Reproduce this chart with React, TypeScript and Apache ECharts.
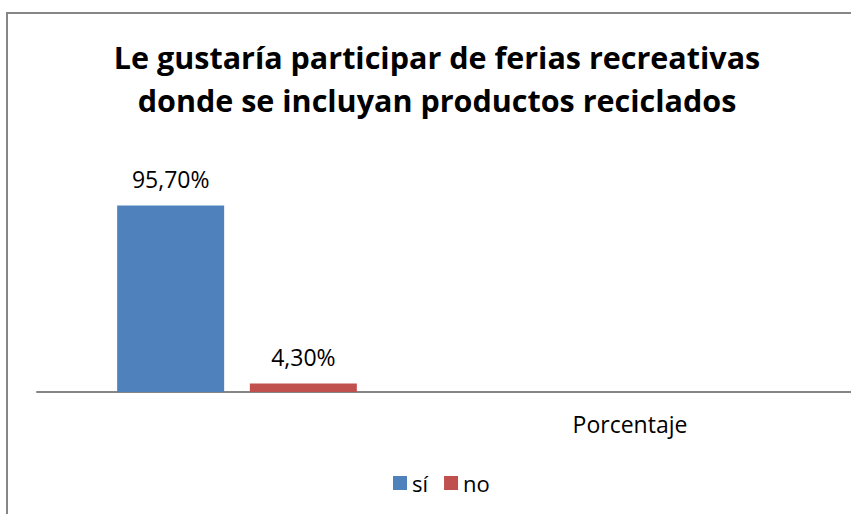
import React, { useEffect, useRef } from "react";
import * as echarts from "echarts";

const categories = ["", "Porcentaje"];
const seriesNames = ["sí", "no"];
const siValues = [95.7, null];
const noValues = [4.3, null];
const seriesColors = ["#4F81BD", "#C0504D"];
const titleText = "Le gustaría participar de ferias recreativas\ndonde se incluyan productos reciclados";

const fmt = (v: number) => v.toFixed(2).replace(".", ",") + "%";

export default function App() {
  const ref = useRef<HTMLDivElement>(null);
  useEffect(() => {
    if (!ref.current) return;
    const chart = echarts.init(ref.current, null, { renderer: "svg" });
    const font = "'Open Sans', sans-serif";
    const label = {
      show: true,
      position: "top",
      distance: 15,
      fontFamily: font,
      fontSize: 23,
      color: "#000",
      formatter: (p: any) => fmt(p.value),
    };
    chart.setOption({
      animation: false,
      backgroundColor: "#fff",
      title: {
        text: titleText,
        left: 432,
        textAlign: "center",
        top: 30,
        textStyle: {
          fontFamily: font,
          fontSize: 30.5,
          fontWeight: "bold",
          color: "#000",
          lineHeight: 43,
        },
      },
      legend: {
        data: seriesNames,
        left: 388,
        top: 467,
        itemWidth: 14,
        itemHeight: 14,
        itemGap: 16,
        icon: "rect",
        textStyle: { fontFamily: font, fontSize: 22, color: "#000" },
      },
      grid: { left: 37, right: 14, top: 197, bottom: 122 },
      xAxis: {
        type: "category",
        data: categories,
        axisLine: { lineStyle: { color: "#868686", width: 2 } },
        axisTick: { show: false },
        axisLabel: {
          fontFamily: font,
          fontSize: 23,
          color: "#000",
          margin: 20,
          padding: [0, 14, 0, 0],
        },
      },
      yAxis: {
        type: "value",
        min: 0,
        max: 100,
        show: false,
        splitLine: { show: false },
      },
      graphic: [
        {
          type: "rect",
          shape: { x: 7, y: 13, width: 900, height: 600 },
          style: { fill: "none", stroke: "#868686", lineWidth: 2 },
          silent: true,
        },
        {
          type: "line",
          shape: { x1: 836, y1: 392, x2: 851, y2: 392 },
          style: { stroke: "#868686", lineWidth: 2 },
          silent: true,
        },
      ],
      series: [
        {
          name: seriesNames[0],
          type: "bar",
          data: siValues,
          barWidth: 107,
          barGap: "24%",
          itemStyle: { color: seriesColors[0] },
          label,
        },
        {
          name: seriesNames[1],
          type: "bar",
          data: noValues,
          barWidth: 107,
          itemStyle: { color: seriesColors[1] },
          label,
        },
      ],
    });
    return () => chart.dispose();
  }, []);
  return (
    <div
      ref={ref}
      style={{ position: "fixed", left: 0, top: 0, width: 851, height: 514 }}
    />
  );
}
